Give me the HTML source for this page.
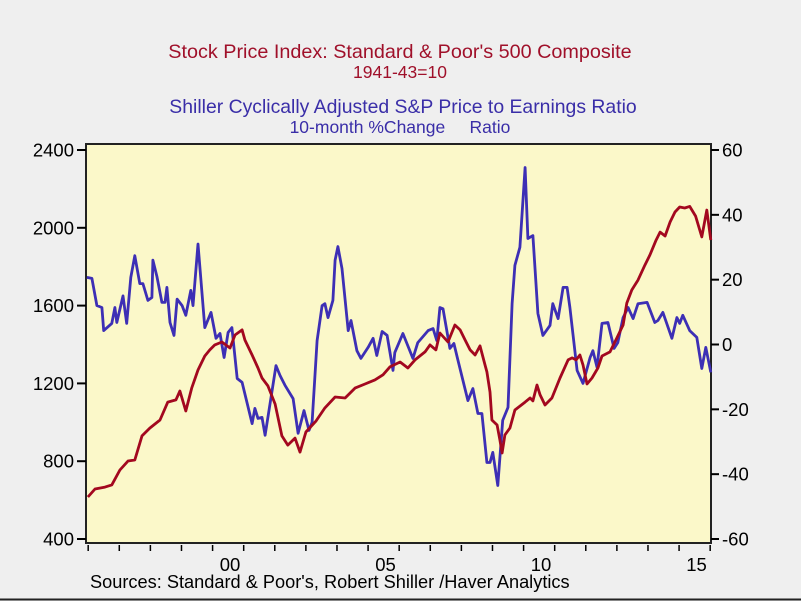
<!DOCTYPE html>
<html><head><meta charset="utf-8"><style>
html,body{margin:0;padding:0;background:#efefef;}
svg{display:block;font-family:"Liberation Sans",sans-serif;}
</style></head><body>
<svg id="chart" width="801" height="601" viewBox="0 0 801 601">
<rect x="0" y="0" width="801" height="601" fill="#efefef"/>
<text x="400" y="58" text-anchor="middle" font-size="19.8" fill="#a0102a">Stock Price Index: Standard &amp; Poor's 500 Composite</text>
<text x="400" y="78" text-anchor="middle" font-size="17.5" fill="#a0102a">1941-43=10</text>
<text x="403" y="113" text-anchor="middle" font-size="19.4" fill="#3a2ea8">Shiller Cyclically Adjusted S&amp;P Price to Earnings Ratio</text>
<text x="400" y="133" text-anchor="middle" font-size="17.5" fill="#3a2ea8" xml:space="preserve">10-month %Change     Ratio</text>
<rect x="86" y="144" width="625" height="399" fill="#fbf8c9" stroke="#222" stroke-width="2"/>
<g id="axes"></g>
<g id="series"></g>
<text x="90" y="588" font-size="18.2" fill="#000">Sources:  Standard &amp; Poor's, Robert Shiller /Haver Analytics</text>
<line x1="0" y1="599.5" x2="801" y2="599.5" stroke="#222" stroke-width="2"/>
</svg>
<script>
const spYears=[1995.43,1995.66,1995.98,1996.20,1996.46,1996.72,1996.94,1997.17,1997.42,1997.75,1998.00,1998.26,1998.39,1998.58,1998.77,1998.97,1999.19,1999.35,1999.51,1999.74,2000.00,2000.16,2000.39,2000.48,2000.71,2000.90,2001.03,2001.22,2001.45,2001.67,2001.86,2002.09,2002.25,2002.44,2002.77,2003.05,2003.38,2003.70,2004.02,2004.34,2004.66,2004.92,2005.14,2005.47,2005.72,2005.95,2006.27,2006.43,2006.62,2006.75,2007.01,2007.23,2007.40,2007.56,2007.72,2007.88,2008.04,2008.20,2008.26,2008.36,2008.42,2008.59,2008.68,2008.75,2008.84,2009.00,2009.16,2009.49,2009.65,2009.74,2009.87,2009.97,2010.13,2010.35,2010.61,2010.87,2011.00,2011.13,2011.25,2011.35,2011.48,2011.64,2011.83,2011.96,2012.22,2012.44,2012.64,2012.76,2012.92,2013.12,2013.34,2013.50,2013.70,2013.83,2013.99,2014.15,2014.31,2014.46,2014.62,2014.78,2014.97,2015.17,2015.33,2015.46];
const spValues=[616,657,667,678,755,801,806,930,970,1012,1104,1115,1161,1058,1176,1269,1341,1372,1398,1413,1382,1449,1475,1423,1346,1279,1228,1187,1094,930,883,919,847,950,1007,1074,1130,1125,1176,1197,1218,1244,1285,1310,1279,1321,1362,1398,1372,1459,1413,1500,1475,1423,1372,1346,1393,1295,1259,1156,1012,986,909,842,935,970,1063,1104,1125,1110,1192,1141,1089,1125,1228,1321,1331,1321,1346,1295,1197,1228,1279,1341,1362,1434,1500,1613,1680,1731,1808,1860,1937,1978,1958,2030,2081,2107,2102,2110,2060,1953,2091,1937];
const peYears=[1995.40,1995.56,1995.72,1995.88,1995.94,1996.20,1996.30,1996.36,1996.56,1996.68,1996.81,1996.94,1997.10,1997.20,1997.36,1997.49,1997.52,1997.65,1997.81,1997.91,1997.97,1998.07,1998.20,1998.30,1998.46,1998.58,1998.74,1998.81,1998.97,1999.19,1999.39,1999.55,1999.68,1999.81,1999.94,2000.06,2000.23,2000.39,2000.71,2000.80,2000.90,2001.03,2001.13,2001.48,2001.61,2001.77,2002.03,2002.19,2002.38,2002.54,2002.64,2002.80,2002.96,2003.05,2003.15,2003.31,2003.38,2003.47,2003.60,2003.80,2003.89,2004.08,2004.21,2004.44,2004.60,2004.72,2004.89,2005.05,2005.24,2005.30,2005.56,2005.88,2006.04,2006.37,2006.53,2006.65,2006.75,2006.85,2007.07,2007.20,2007.33,2007.65,2007.81,2007.97,2008.10,2008.26,2008.36,2008.45,2008.61,2008.77,2008.94,2009.07,2009.16,2009.32,2009.49,2009.58,2009.74,2009.90,2010.06,2010.29,2010.38,2010.55,2010.71,2010.84,2010.93,2011.16,2011.35,2011.58,2011.67,2011.80,2011.96,2012.15,2012.35,2012.47,2012.64,2012.80,2012.96,2013.12,2013.41,2013.66,2013.76,2013.92,2014.21,2014.37,2014.46,2014.56,2014.78,2015.01,2015.17,2015.30,2015.46];
const peValues=[20.7,20.4,12,11.4,4.3,6.5,11.4,6.8,15,6.5,20.7,27.4,18.8,18.8,13.6,14.5,26,21,13,13,17.6,6.8,2.8,14,12,9,16.7,12,31,5.2,9.9,1.9,3.4,-4,3.7,5.2,-10.5,-11.7,-24.4,-19.7,-22.8,-22.5,-28,-6.5,-9.6,-12.6,-16.7,-27.4,-20.4,-26.5,-24,1.2,12,12.6,8.3,13.6,26,30.2,23.4,4.3,7.4,-1.9,-4.3,-0.9,1.9,-3.4,4,2.8,-8,-2.5,3.4,-4.3,0.6,4.3,4.9,1.2,11.4,11,-1.2,0.3,-4.9,-17.3,-13.6,-21.3,-21.3,-36.4,-36.4,-33.3,-43.5,-23.4,-19.4,12.6,24.4,30,54.6,32.7,33.6,9.6,2.8,5.9,12.6,8,17.6,17.6,11.4,-8,-12,-4,-1.9,-7,6.5,6.8,-1.2,0.6,8.3,11.4,8,12.6,13,6.8,7.4,9.9,1.9,8.3,6.5,9,4.3,2.2,-7.4,-0.9,-8.6];
const leftTicks=[400,800,1200,1600,2000,2400];
const rightTicks=[-60,-40,-20,0,20,40,60];
const yearLabels=["00","05","10","15"];
const labelYears=[2000,2005,2010,2015];

const NS="http://www.w3.org/2000/svg";
const X0=86,X1=711,Y0=144,Y1=543;
function xs(y){return 230+(y-2000)*31.1;}
function yl(v){return 539-(v-400)*(389/2000);}
function yr(v){return 344.5-v*(389/120);}
function mk(tag,attrs,parent){const e=document.createElementNS(NS,tag);for(const k in attrs)e.setAttribute(k,attrs[k]);parent.appendChild(e);return e;}
const axes=document.getElementById('axes'),series=document.getElementById('series');
leftTicks.forEach(v=>{
  const t=mk('line',{x1:77,x2:86,y1:yl(v),y2:yl(v),stroke:'#000','stroke-width':2},axes);
  
  
  const l=mk('text',{x:74,y:yl(v)+6.5,'text-anchor':'end','font-size':18.5,fill:'#000'},axes);
  l.textContent=v;
  
  
});
rightTicks.forEach(v=>{
  const t=mk('line',{x1:711,x2:719,y1:yr(v),y2:yr(v),stroke:'#000','stroke-width':2},axes);
  
  
  const l=mk('text',{x:722,y:yr(v)+6.5,'text-anchor':'start','font-size':18.5,fill:'#000'},axes);
  l.textContent=v;
  
  
});
for(let y=1995;y<=2015;y++){
  const x=xs(y+0.44);
  if(x<X0-1||x>X1+1)continue;
  const t=mk('line',{x1:x,x2:x,y1:545,y2:551,stroke:'#000','stroke-width':1.5},axes);
  
  
}
yearLabels.forEach((s,i)=>{
  const l=mk('text',{x:xs(labelYears[i]),y:571,'text-anchor':'middle','font-size':18.5,fill:'#000'},axes);
  l.textContent=s;
  
  
});
function path(xsArr,ys,fn,color,name){
  const d=xsArr.map((t,i)=>(i?'L':'M')+xs(t).toFixed(1)+','+fn(ys[i]).toFixed(1)).join('');
  const p=mk('path',{d:d,fill:'none',stroke:color,'stroke-width':2.8,'stroke-linejoin':'round'},series);
  
  
}
path(peYears,peValues,yr,'#3d2fb5','shiller-pe-line');
path(spYears,spValues,yl,'#a3081f','sp500-line');
</script>
</body></html>
